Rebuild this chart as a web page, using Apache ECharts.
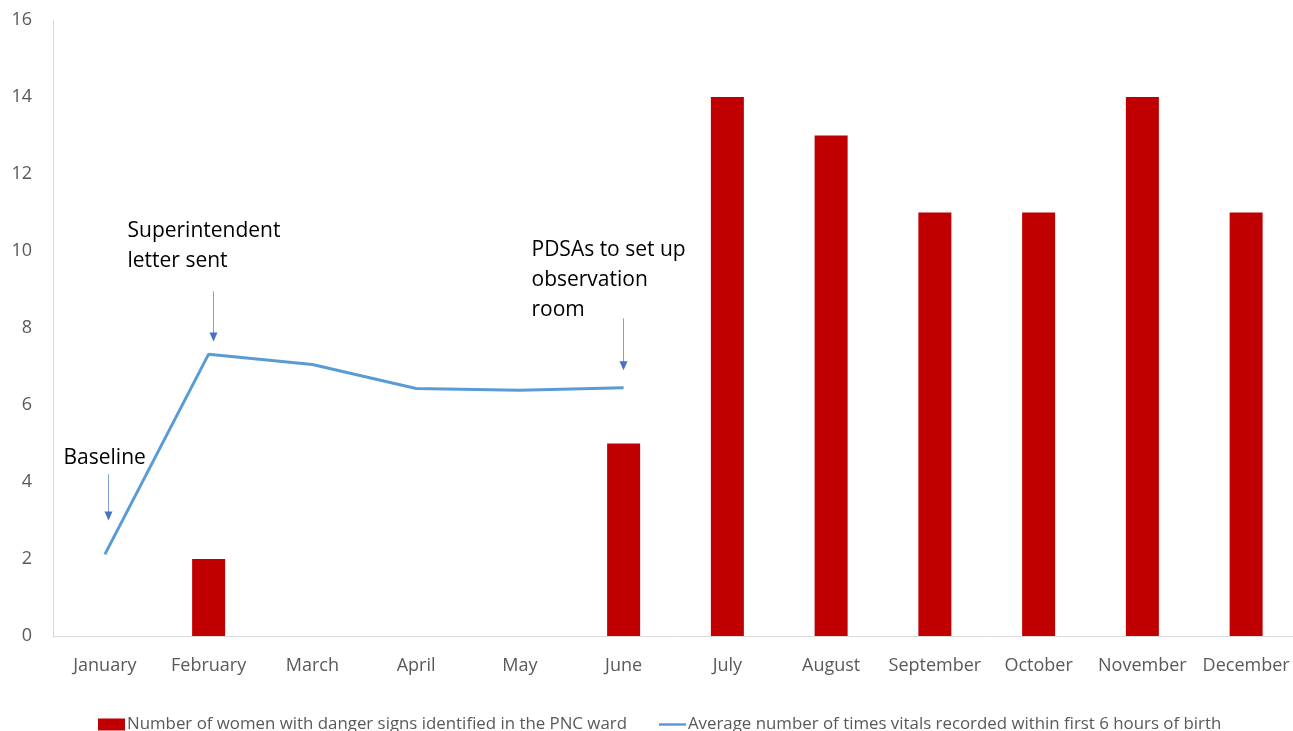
<!DOCTYPE html>
<html>
<head>
<meta charset="utf-8">
<script src="https://cdn.jsdelivr.net/npm/echarts@6/dist/echarts.min.js"></script>
<style>
  html, body { margin: 0; padding: 0; background: #fff; overflow: hidden; }
  #chart { width: 1298px; height: 731px; }
</style>
</head>
<body>
<div id="chart"></div>
<script>
// 月份
const months = ['January', 'February', 'March', 'April', 'May', 'June',
  'July', 'August', 'September', 'October', 'November', 'December']
// 危险征象人数（柱）
const dangerSigns = ['-', 2, '-', '-', '-', 5, 14, 13, 11, 11, 14, 11]
// 出生后6小时内记录生命体征的平均次数（线）
const vitalsAvg = [2.12, 7.32, 7.05, 6.43, 6.38, 6.45, '-', '-', '-', '-', '-', '-']
// 注释：文字、所在月份、箭头起止值
const notes = [
  { month: 'January', lines: ['Baseline'], from: 4.2, to: 3.0, ax: 3.5, dx: -45, dy: -31 },
  { month: 'February', lines: ['Superintendent', 'letter sent'], from: 8.95, to: 7.65, ax: 4.5, dx: -86, dy: -75 },
  { month: 'June', lines: ['PDSAs to set up', 'observation', 'room'], from: 8.25, to: 6.9, ax: -0.5, dx: -92, dy: -83 }
]
const yTicks = { min: 0, max: 16, interval: 2 }

const FONT = '"Open Sans", "Liberation Sans", sans-serif'
const BAR_NAME = 'Number of women with danger signs identified in the PNC ward'
const LINE_NAME = 'Average number of times vitals recorded within first 6 hours of birth'
const chart = echarts.init(document.getElementById('chart'))

chart.setOption({
  animation: false,
  textStyle: { fontFamily: FONT },
  grid: { left: 53, right: 0, top: 20, bottom: 95 },
  legend: {
    left: 98,
    top: 716,
    padding: 0,
    itemWidth: 27,
    itemHeight: 12,
    itemGap: 32,
    textStyle: { fontSize: 16.85, color: '#595959', padding: [0, 0, 0, -3] },
    data: [
      { name: BAR_NAME, icon: 'rect' },
      // 细线图例（上下留白让线条变细）
      { name: LINE_NAME, icon: 'path://M0 0H0.01V0.01H0Z M0 4.5H30V7.5H0Z M0 11.99H0.01V12H0Z' }
    ]
  },
  xAxis: {
    type: 'category',
    data: months,
    axisLine: { lineStyle: { color: '#d9d9d9', width: 1 } },
    axisTick: { show: false },
    axisLabel: { fontSize: 18, color: '#595959', margin: 21, interval: 0 }
  },
  yAxis: {
    type: 'value',
    min: yTicks.min,
    max: yTicks.max,
    interval: yTicks.interval,
    axisLine: { show: true, lineStyle: { color: '#d9d9d9', width: 1 } },
    axisTick: { show: false },
    splitLine: { show: false },
    axisLabel: { fontSize: 18, color: '#595959', margin: 21 }
  },
  series: [
    {
      name: BAR_NAME,
      type: 'bar',
      data: dangerSigns,
      barWidth: 33,
      itemStyle: { color: '#C00000' }
    },
    {
      name: LINE_NAME,
      type: 'line',
      data: vitalsAvg,
      symbol: 'none',
      lineStyle: { color: '#5B9BD5', width: 3 },
      itemStyle: { color: '#5B9BD5' }
    }
  ]
})

// 注释文字和箭头，按数据坐标换算位置
const graphics = []
notes.forEach(n => {
  const top = chart.convertToPixel({ xAxisIndex: 0, yAxisIndex: 0 }, [n.month, n.from])
  const tip = chart.convertToPixel({ xAxisIndex: 0, yAxisIndex: 0 }, [n.month, n.to])
  const x = Math.round(top[0] + n.ax) + 0.5
  graphics.push({
    type: 'line',
    shape: { x1: x, y1: top[1], x2: x, y2: tip[1] - 8 },
    style: { stroke: '#7F9FDA', lineWidth: 1 }
  })
  graphics.push({
    type: 'polygon',
    shape: { points: [[x - 4, tip[1] - 9], [x + 4, tip[1] - 9], [x, tip[1]]] },
    style: { fill: '#4472C4' }
  })
  graphics.push({
    type: 'text',
    left: x + n.dx,
    top: top[1] + n.dy,
    style: {
      text: n.lines.join('\n'),
      font: '21px ' + FONT,
      lineHeight: 30,
      fill: '#000'
    }
  })
})
chart.setOption({ graphic: graphics })
</script>
</body>
</html>
